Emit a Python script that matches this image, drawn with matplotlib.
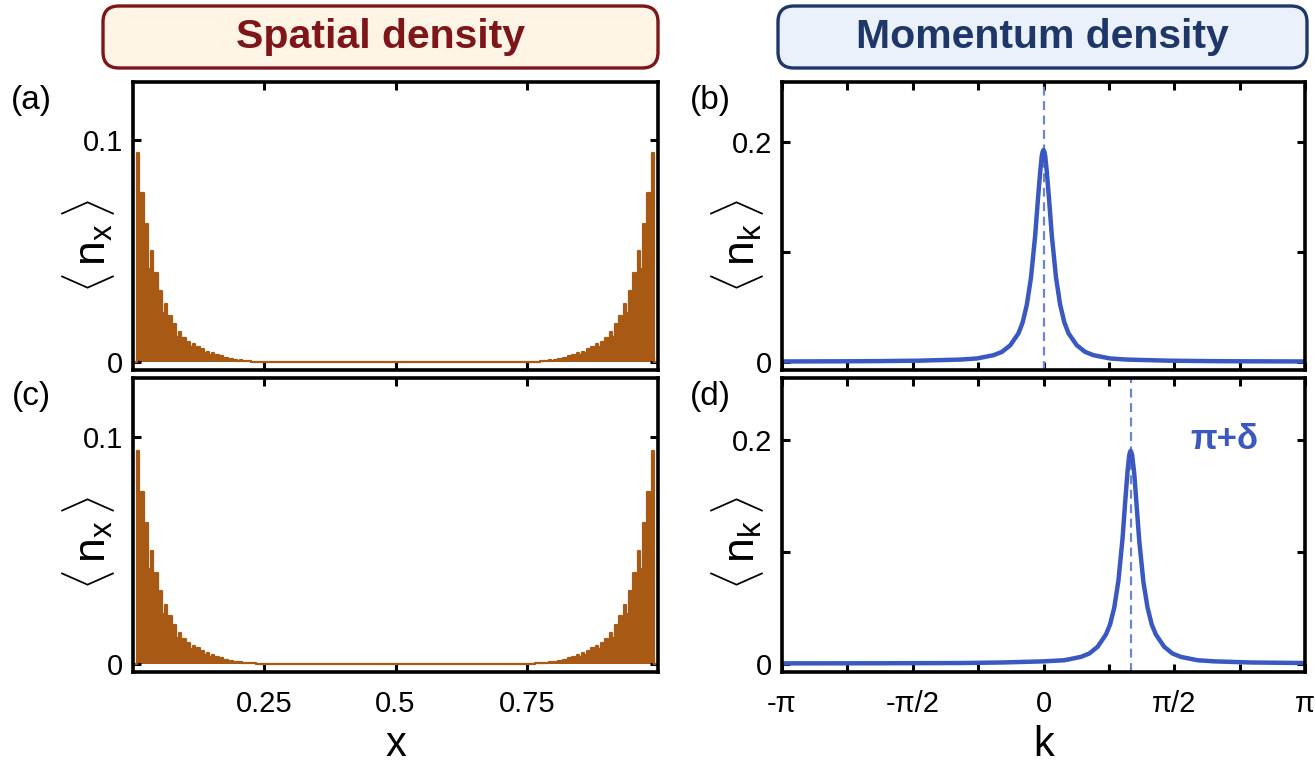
import numpy as np
import matplotlib
matplotlib.use("Agg")
import matplotlib.pyplot as plt
from matplotlib.patches import FancyBboxPatch

plt.rcParams['font.family'] = ['Liberation Sans', 'DejaVu Sans']
plt.rcParams['mathtext.fontset'] = 'custom'
plt.rcParams['mathtext.rm'] = 'Liberation Sans'
plt.rcParams['mathtext.it'] = 'Liberation Sans'

# ---- spatial density, read site by site (left edge -> centre)
n_sites = 224
peaks_left = [0.094, 0.076, 0.062, 0.050, 0.040, 0.032, 0.026, 0.021, 0.017, 0.0135,
              0.011, 0.0092, 0.0080, 0.0070, 0.0058, 0.0048, 0.0040, 0.0032, 0.0026,
              0.0020, 0.0015, 0.0011, 0.0008, 0.0006, 0.0004, 0.0003, 0.0002, 0.0001]
shoulders_left = [0.064, 0.052, 0.042, 0.034, 0.027, 0.022, 0.0175, 0.014, 0.0113, 0.0092,
                  0.0077, 0.0067, 0.0058, 0.0048, 0.0040, 0.0033, 0.0027, 0.0022, 0.0017,
                  0.0013, 0.0009, 0.0007, 0.0005, 0.0004, 0.0003, 0.0002, 0.0001, 0.0]
# centre -> right edge
peaks_right = [0.0001, 0.0002, 0.0003, 0.0004, 0.0006, 0.0008, 0.0011, 0.0015, 0.0020,
               0.0026, 0.0032, 0.0040, 0.0048, 0.0058, 0.0070, 0.0080, 0.0092, 0.011,
               0.0135, 0.017, 0.021, 0.026, 0.032, 0.040, 0.050, 0.062, 0.076, 0.094]
shoulders_right = [0.0, 0.0001, 0.0002, 0.0003, 0.0004, 0.0005, 0.0007, 0.0009, 0.0013,
                   0.0017, 0.0022, 0.0027, 0.0033, 0.0040, 0.0048, 0.0058, 0.0067, 0.0077,
                   0.0092, 0.0113, 0.014, 0.0175, 0.022, 0.027, 0.034, 0.042, 0.052, 0.064]

# ---- momentum density, panel (b)
k_b = [-3.1416, -2.5, -2.0, -1.5, -1.0, -0.8, -0.6, -0.5, -0.4, -0.3, -0.25, -0.2, -0.15,
       -0.1, -0.07, -0.04, -0.02, -0.01, 0.0, 0.01, 0.02, 0.04, 0.07, 0.1, 0.15, 0.2, 0.25,
       0.3, 0.4, 0.5, 0.6, 0.8, 1.0, 1.5, 2.0, 2.5, 3.1416]
n_b = [0.0003, 0.0004, 0.0006, 0.001, 0.002, 0.003, 0.006, 0.009, 0.015, 0.026, 0.036,
       0.052, 0.077, 0.115, 0.145, 0.173, 0.188, 0.1915, 0.193, 0.1915, 0.188, 0.173, 0.145,
       0.115, 0.077, 0.052, 0.036, 0.026, 0.015, 0.009, 0.006, 0.003, 0.002, 0.001, 0.0006,
       0.0004, 0.0003]

# ---- momentum density, panel (d)
k_d = [-3.1416, -2.0, -1.0, -0.5, 0.0, 0.25, 0.45, 0.55, 0.65, 0.75, 0.80, 0.85, 0.90,
       0.95, 0.98, 1.01, 1.03, 1.038, 1.047, 1.056, 1.065, 1.09, 1.12, 1.15, 1.20, 1.25,
       1.30, 1.35, 1.45, 1.55, 1.65, 1.85, 2.05, 2.5, 3.1416]
n_d = [0.0002, 0.0003, 0.0005, 0.001, 0.002, 0.003, 0.006, 0.009, 0.015, 0.026, 0.035,
       0.050, 0.074, 0.112, 0.143, 0.172, 0.186, 0.1885, 0.190, 0.1885, 0.186, 0.170, 0.140,
       0.110, 0.073, 0.050, 0.035, 0.026, 0.015, 0.009, 0.006, 0.003, 0.002, 0.001, 0.0005]
k_peak_b = 0.0
k_peak_d = 1.047

x_ticks = [0.25, 0.5, 0.75]
x_ticklabels = ['0.25', '0.5', '0.75']
k_ticks = np.pi * np.array([-1, -0.75, -0.5, -0.25, 0, 0.25, 0.5, 0.75, 1])
k_ticklabels = ['-π', '', '-π/2', '', '0', '', 'π/2', '', 'π']

orange = '#a85a14'
blue = '#3a58c0'
dash_blue = '#6a86d4'
red_dark = '#7e1518'
navy = '#1f3768'

L = len(peaks_left)
dens = np.zeros(n_sites + 1)
dens[2:2 + 2 * L:2] = peaks_left
dens[3:3 + 2 * L:2] = shoulders_left
dens[n_sites - 2 * L:n_sites - 1:2] = peaks_right
dens[n_sites - 2 * L - 1:n_sites - 2:2] = shoulders_right
x_sites = np.arange(n_sites + 1) / n_sites

fig = plt.figure(figsize=(13.15, 7.69), dpi=100)

W, H = 1315.0, 769.0


def box(l, t, r, b):
    return [l / W, 1 - b / H, (r - l) / W, (b - t) / H]


def style(ax):
    for s in ax.spines.values():
        s.set_linewidth(2.6)
    ax.tick_params(direction='in', length=6, width=2.2, top=True, right=True,
                   labelsize=21)
    ax.tick_params(axis='y', pad=7)
    ax.tick_params(axis='x', pad=13)


ax_a = fig.add_axes(box(133, 82, 658, 370))
ax_c = fig.add_axes(box(133, 378, 658, 672))
ax_b = fig.add_axes(box(782, 82, 1305, 370))
ax_d = fig.add_axes(box(782, 378, 1305, 672))

for ax, ly in ((ax_a, 0.43), (ax_c, 0.44)):
    ax.fill_between(x_sites, dens, step='mid', color=orange, lw=0)
    ax.step(x_sites, dens, where='mid', color=orange, lw=1.6)
    ax.set_xlim(0, 1)
    ax.set_ylim(-0.0035, 0.126)
    ax.set_yticks([0, 0.1])
    ax.set_yticklabels(['0', '0.1'])
    ax.set_xticks(x_ticks)
    ax.set_ylabel(r'$\langle\,\mathrm{n_x}\,\rangle$', fontsize=32)
    ax.yaxis.set_label_coords(-0.03, ly)
    style(ax)
ax_a.set_xticklabels([])
ax_c.set_xticklabels(x_ticklabels)
ax_c.set_xlabel('x', fontsize=30, labelpad=5)

for ax, kk, nn, kp, ly in ((ax_b, k_b, n_b, k_peak_b, 0.43), (ax_d, k_d, n_d, k_peak_d, 0.44)):
    ax.axvline(kp, color=dash_blue, lw=1.6, ls=(0, (4, 2.5)))
    ax.plot(kk, nn, color=blue, lw=3.2)
    ax.set_xlim(-np.pi, np.pi)
    ax.set_ylim(-0.0075, 0.255)
    ax.set_yticks([0, 0.1, 0.2])
    ax.set_yticklabels(['0', '', '0.2'])
    ax.set_xticks(k_ticks)
    ax.set_ylabel(r'$\langle\,\mathrm{n_k}\,\rangle$', fontsize=32)
    ax.yaxis.set_label_coords(-0.03, ly)
    style(ax)
ax_b.set_xticklabels([])
ax_d.set_xticklabels(k_ticklabels)
ax_d.set_xlabel('k', fontsize=30, labelpad=5)
ax_d.text(1.76, 0.2, 'π+δ', color=blue, fontsize=25, fontweight='bold',
          ha='left', va='center')

# panel letters
for lbl, px, py in (('(a)', 31, 101), ('(b)', 710, 101), ('(c)', 31, 397), ('(d)', 710, 397)):
    fig.text(px / W, 1 - py / H, lbl, fontsize=24, ha='center', va='center')

# header boxes
for (l, r, txt, fc, ec) in ((103, 658, 'Spatial density', '#fdf4e6', red_dark),
                             (778, 1307, 'Momentum density', '#eaf1fb', navy)):
    fig.patches.append(FancyBboxPatch((l / 100, (H - 68) / 100), (r - l) / 100, 0.62,
                                      boxstyle='round,pad=0,rounding_size=0.16',
                                      transform=fig.dpi_scale_trans, fc=fc, ec=ec, lw=2.4))
    fig.text((l + r) / 2 / W, 1 - 37 / H, txt, fontsize=29.5, fontweight='bold',
             color=ec, ha='center', va='center')

fig.savefig('out.png', dpi=100)
